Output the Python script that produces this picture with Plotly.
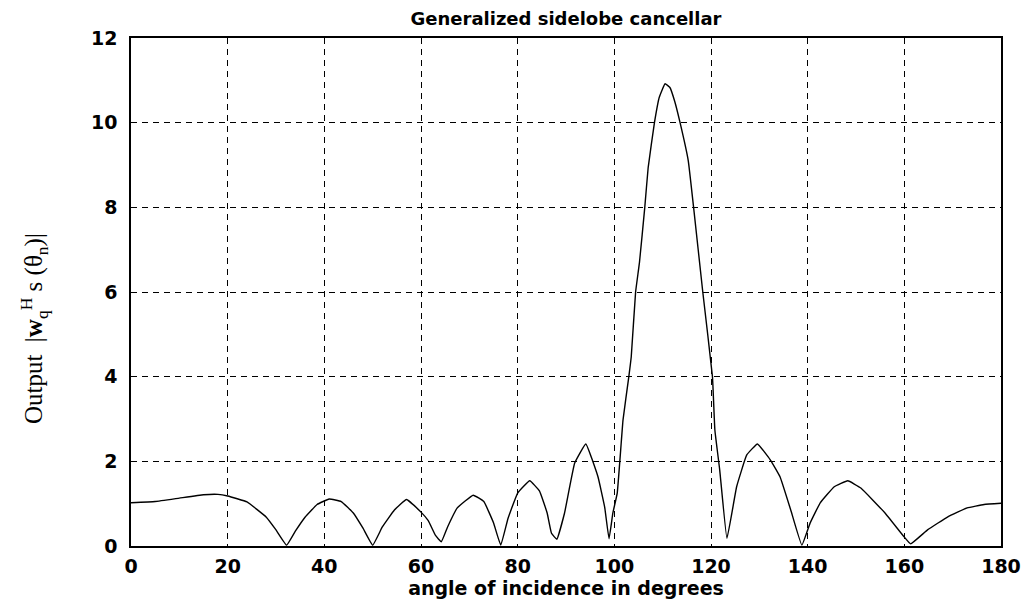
import plotly.graph_objects as go

angle = [0, 5, 10, 15, 18, 20, 24, 28, 30, 32.2, 34, 36, 38.5, 41, 43.5, 46, 48, 50,
         52, 54.5, 57, 60, 61.5, 63, 64.2, 65.5, 67.5, 70.8, 73, 75, 76.5,
         78, 80, 82.5, 84.5, 86.1, 87, 88.1, 89.7, 91.8, 94.1, 96.6, 98, 98.9, 99.7,
         100.6, 101.8, 103, 103.5, 104.4, 105.2, 106.3, 107, 108.3, 109.3, 110.5, 111.5,
         112.5, 113.6, 115.3, 116.4, 118.3, 120.3, 120.8, 121.8, 123.3, 125.3, 127.4,
         129.6, 132.3, 134.3, 136.5, 138.8, 140.5, 142.6, 145.5, 148.3, 151, 156,
         160, 161.3, 164.8, 169, 173, 176.5, 180]
output = [1.02, 1.05, 1.13, 1.21, 1.22, 1.18, 1.04, 0.68, 0.38, 0.02, 0.35, 0.68, 0.98, 1.11, 1.05, 0.78, 0.42, 0.02,
          0.45, 0.85, 1.1, 0.8, 0.6, 0.25, 0.1, 0.45, 0.9, 1.2, 1.05, 0.55, 0.02,
          0.65, 1.25, 1.54, 1.3, 0.78, 0.3, 0.16, 0.78, 1.96, 2.41, 1.64, 0.92, 0.17, 0.78,
          1.25, 2.98, 4.0, 4.47, 6.0, 6.7, 8.0, 8.94, 10.0, 10.6, 10.92, 10.83,
          10.5, 10.0, 9.1, 8.0, 6.0, 4.0, 2.74, 1.8, 0.18, 1.4, 2.15,
          2.41, 2.03, 1.63, 0.85, 0.02, 0.54, 1.02, 1.4, 1.54, 1.37, 0.78,
          0.21, 0.05, 0.38, 0.69, 0.9, 0.98, 1.01]

x_ticks = [0, 20, 40, 60, 80, 100, 120, 140, 160, 180]
y_ticks = [0, 2, 4, 6, 8, 10, 12]

fig = go.Figure()
fig.add_trace(go.Scatter(x=angle, y=output, mode="lines",
                         line=dict(color="black", width=1.4, shape="spline", smoothing=0.3),
                         showlegend=False, hoverinfo="skip"))

sans = "DejaVu Sans, Verdana, sans-serif"
tick_font = dict(family=sans, size=19, color="black", weight="bold")
fig.update_layout(
    width=1025, height=596,
    paper_bgcolor="white", plot_bgcolor="white",
    margin=dict(l=123, r=32, t=30, b=58),
    title=dict(text="Generalized sidelobe cancellar", x=0.5, xref="paper", xanchor="center",
               y=1, yref="container", yanchor="top", pad=dict(t=4),
               font=dict(family=sans, size=18, color="black", weight="bold")),
    xaxis=dict(range=[0, 180], tickvals=x_ticks, ticktext=[str(v) for v in x_ticks],
               showgrid=True, gridcolor="black", griddash="6px,5px", gridwidth=1,
               showline=True, linecolor="black", linewidth=1.5, mirror=True,
               ticks="", zeroline=False, tickfont=tick_font, ticklabelstandoff=2,
               title=dict(text="angle of incidence in degrees", standoff=2,
                          font=dict(family=sans, size=19, color="black", weight="bold"))),
    yaxis=dict(range=[0, 12], tickvals=y_ticks, ticktext=[str(v) for v in y_ticks],
               showgrid=True, gridcolor="black", griddash="6px,5px", gridwidth=1,
               showline=True, linecolor="black", linewidth=1.5, mirror=True,
               ticks="", zeroline=False, tickfont=tick_font, ticklabelstandoff=8),
)

fig.add_annotation(text="Output  |<b>w</b><sub>q</sub><sup>H</sup> s (θ<sub>n</sub>)|",
                   xref="paper", yref="paper", x=0, y=0.427, xanchor="center", yanchor="middle",
                   xshift=-97, textangle=-90, showarrow=False,
                   font=dict(family="Liberation Serif, Times New Roman, serif", size=25, color="black"))

fig.write_html("out.html")
